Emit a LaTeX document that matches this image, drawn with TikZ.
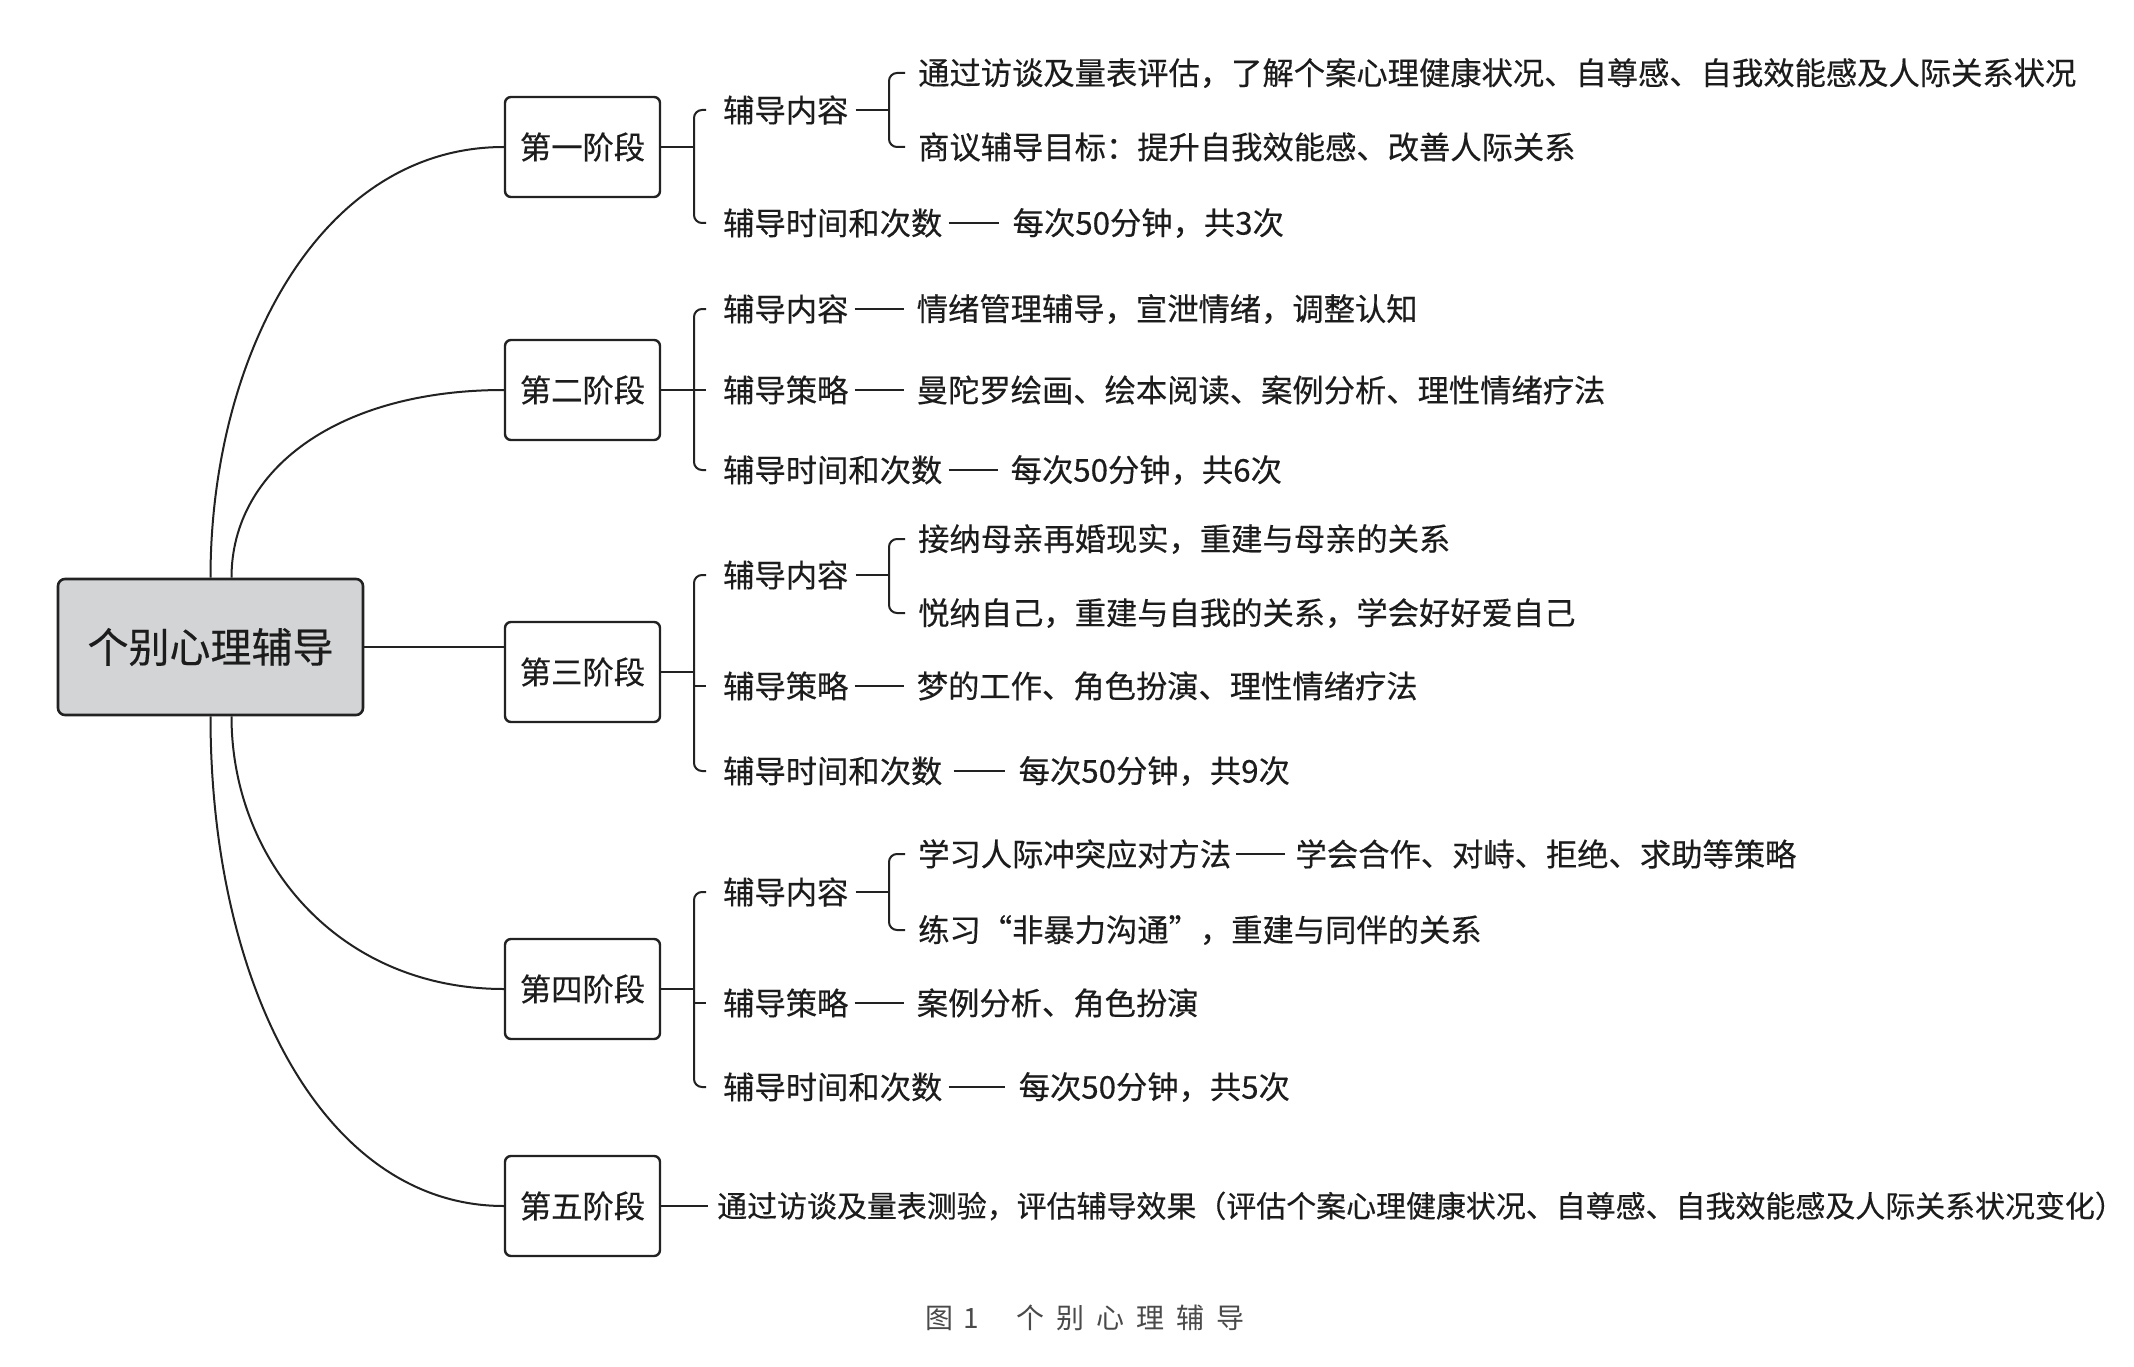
\documentclass[tikz,border=0pt]{standalone}
\usepackage{fontspec}
\usepackage{tikz}
\usetikzlibrary{positioning}
\newfontfamily\cjk[FakeBold=0.35]{Noto Sans CJK SC}
\newfontfamily\capfont{Noto Sans CJK SC}
\definecolor{linegray}{HTML}{222222}
\definecolor{rootgray}{HTML}{D3D4D6}
\definecolor{textgray}{HTML}{1C1C1C}
\definecolor{capgray}{HTML}{4A4A4A}
\def\itemfont{\cjk\fontsize{31.3}{36}\selectfont}
\tikzset{
  rootbox/.style={draw=linegray, line width=2.6pt, rounded corners=7pt, fill=rootgray,
    minimum width=305pt, minimum height=136pt, text=textgray, font=\cjk\fontsize{41}{48}\selectfont},
  stagebox/.style={draw=linegray, line width=2.4pt, rounded corners=6pt, fill=white,
    minimum width=155pt, minimum height=100pt, text=textgray, font=\itemfont},
  item/.style={inner sep=0pt, anchor=west, text=textgray, font=\itemfont},
  conn/.style={draw=linegray, line width=2pt},
  brace/.style={conn, rounded corners=8pt},
  caption/.style={inner sep=0pt, anchor=west, text=capgray, font=\capfont\fontsize{28}{32}\selectfont},
}
\begin{document}
\begin{tikzpicture}[x=1pt,y=-1pt]
\useasboundingbox[fill=white] (0,0) rectangle (2134,1367);
\node[rootbox] (root) at (210.5,647) {个别心理辅导};
\node[stagebox] (s1) at (582.5,147) {第一阶段};
\node[stagebox] (s2) at (582.5,390) {第二阶段};
\node[stagebox] (s3) at (582.5,672) {第三阶段};
\node[stagebox] (s4) at (582.5,989) {第四阶段};
\node[stagebox] (s5) at (582.5,1206) {第五阶段};
% root to stages
\draw[conn] (root.north) .. controls +(0,-220) and +(-185,0) .. (s1.west);
\draw[conn] ([xshift=21pt]root.north) .. controls +(0,-109) and +(-165,0) .. (s2.west);
\draw[conn] (root.east) -- (root.east -| s3.west);
\draw[conn] ([xshift=21pt]root.south) .. controls +(0,145) and +(-165,0) .. (s4.west);
\draw[conn] (root.south) .. controls +(0,270) and +(-180,0) .. (s5.west);
% stage 1
\node[item] (s1a) at (723,110) {辅导内容};
\node[item] (s1a1) at (918,73) {通过访谈及量表评估，了解个案心理健康状况、自尊感、自我效能感及人际关系状况};
\node[item] (s1a2) at (918,147) {商议辅导目标：提升自我效能感、改善人际关系};
\node[item] (s1b) at (723,223) {辅导时间和次数};
\node[item, right=70pt of s1b] (s1b1) {每次50分钟，共3次};
\draw[conn] (s1.east) -- ([xshift=-29pt]s1a.west |- s1.east);
\draw[brace] ([xshift=-17pt]s1a.west) -- ([xshift=-29pt]s1a.west) |- ([xshift=-17pt]s1b.west);
\draw[conn] ([xshift=7pt]s1a.east) -- ([xshift=40pt]s1a.east);
\draw[brace] ([xshift=-13pt]s1a1.west) -- ([xshift=-29pt]s1a1.west) |- ([xshift=-13pt]s1a2.west);
\draw[conn] ([xshift=6pt]s1b.east) -- ([xshift=-14pt]s1b1.west);
% stage 2
\node[item] (s2a) at (723,309) {辅导内容};
\node[item, right=68pt of s2a] (s2a1) {情绪管理辅导，宣泄情绪，调整认知};
\node[item] (s2b) at (723,390) {辅导策略};
\node[item, right=68pt of s2b] (s2b1) {曼陀罗绘画、绘本阅读、案例分析、理性情绪疗法};
\node[item] (s2c) at (723,470) {辅导时间和次数};
\node[item, right=68pt of s2c] (s2c1) {每次50分钟，共6次};
\draw[conn] (s2.east) -- ([xshift=-17pt]s2b.west);
\draw[brace] ([xshift=-17pt]s2a.west) -- ([xshift=-29pt]s2a.west) |- ([xshift=-17pt]s2c.west);
\draw[conn] ([xshift=6pt]s2a.east) -- ([xshift=-13pt]s2a1.west);
\draw[conn] ([xshift=6pt]s2b.east) -- ([xshift=-13pt]s2b1.west);
\draw[conn] ([xshift=6pt]s2c.east) -- ([xshift=-13pt]s2c1.west);
% stage 3
\node[item] (s3a) at (723,575) {辅导内容};
\node[item] (s3a1) at (918,539) {接纳母亲再婚现实，重建与母亲的关系};
\node[item] (s3a2) at (918,613) {悦纳自己，重建与自我的关系，学会好好爱自己};
\node[item] (s3b) at (723,686) {辅导策略};
\node[item, right=68pt of s3b] (s3b1) {梦的工作、角色扮演、理性情绪疗法};
\node[item] (s3c) at (723,771) {辅导时间和次数};
\node[item, right=76pt of s3c] (s3c1) {每次50分钟，共9次};
\draw[conn] (s3.east) -- ([xshift=-29pt]s3a.west |- s3.east);
\draw[brace] ([xshift=-17pt]s3a.west) -- ([xshift=-29pt]s3a.west) |- ([xshift=-17pt]s3c.west);
\draw[conn] ([xshift=-29pt]s3b.west) -- ([xshift=-17pt]s3b.west);
\draw[conn] ([xshift=7pt]s3a.east) -- ([xshift=40pt]s3a.east);
\draw[brace] ([xshift=-13pt]s3a1.west) -- ([xshift=-29pt]s3a1.west) |- ([xshift=-13pt]s3a2.west);
\draw[conn] ([xshift=6pt]s3b.east) -- ([xshift=-13pt]s3b1.west);
\draw[conn] ([xshift=11pt]s3c.east) -- ([xshift=-14pt]s3c1.west);
% stage 4
\node[item] (s4a) at (723,892) {辅导内容};
\node[item] (s4a1) at (918,854) {学习人际冲突应对方法};
\node[item, right=64pt of s4a1] (s4a1x) {学会合作、对峙、拒绝、求助等策略};
\node[item] (s4a2) at (918,930) {练习“非暴力沟通”，重建与同伴的关系};
\node[item] (s4b) at (723,1003) {辅导策略};
\node[item, right=68pt of s4b] (s4b1) {案例分析、角色扮演};
\node[item] (s4c) at (723,1087) {辅导时间和次数};
\node[item, right=76pt of s4c] (s4c1) {每次50分钟，共5次};
\draw[conn] (s4.east) -- ([xshift=-29pt]s4a.west |- s4.east);
\draw[brace] ([xshift=-17pt]s4a.west) -- ([xshift=-29pt]s4a.west) |- ([xshift=-17pt]s4c.west);
\draw[conn] ([xshift=-29pt]s4b.west) -- ([xshift=-17pt]s4b.west);
\draw[conn] ([xshift=7pt]s4a.east) -- ([xshift=40pt]s4a.east);
\draw[brace] ([xshift=-13pt]s4a1.west) -- ([xshift=-29pt]s4a1.west) |- ([xshift=-13pt]s4a2.west);
\draw[conn] ([xshift=5pt]s4a1.east) -- ([xshift=-10pt]s4a1x.west);
\draw[conn] ([xshift=6pt]s4b.east) -- ([xshift=-13pt]s4b1.west);
\draw[conn] ([xshift=6pt]s4c.east) -- ([xshift=-14pt]s4c1.west);
% stage 5
\node[item, font=\cjk\fontsize{29.95}{34}\selectfont] (s5a) at (717,1206) {通过访谈及量表测验，评估辅导效果（评估个案心理健康状况、自尊感、自我效能感及人际关系状况变化）};
\draw[conn] (s5.east) -- ([xshift=-9pt]s5a.west);
% caption
\node[caption] (cap) at (925,1318) {图\hspace{10pt}1\hspace{38pt}个\hspace{12pt}别\hspace{12pt}心\hspace{12pt}理\hspace{12pt}辅\hspace{12pt}导};
\end{tikzpicture}
\end{document}
